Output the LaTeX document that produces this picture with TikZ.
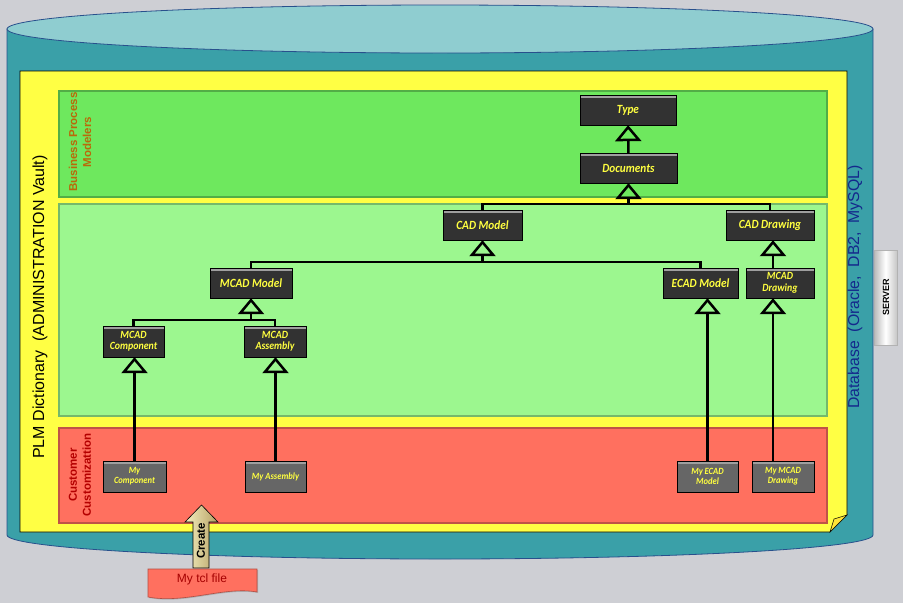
\documentclass[tikz,border=0pt]{standalone}
\usepackage{fontspec}
\setmainfont{Liberation Sans}
\newfontfamily\nodefont[FakeStretch=0.9]{Carlito}
\usetikzlibrary{arrows.meta,shadows,calc}
\definecolor{bggray}{RGB}{206,207,212}
\definecolor{cyl}{RGB}{58,160,168}
\definecolor{cyltop}{RGB}{143,205,208}
\definecolor{cyledge}{RGB}{40,80,140}
\definecolor{yel}{RGB}{255,255,68}
\definecolor{grnA}{RGB}{110,232,94}
\definecolor{grnB}{RGB}{156,247,143}
\definecolor{redband}{RGB}{255,112,95}
\definecolor{nodedark}{RGB}{50,50,50}
\definecolor{nodegray}{RGB}{102,102,102}
\definecolor{nodetext}{RGB}{255,255,64}
\definecolor{bpmtext}{RGB}{185,105,10}
\definecolor{custtext}{RGB}{180,0,0}
\definecolor{navytext}{RGB}{20,40,140}
\tikzset{
  cls/.style={draw=black, line width=0.4pt, fill=nodedark, text=nodetext,
    font=\nodefont\bfseries\itshape\fontsize{12.5}{12}\selectfont, align=center,
    inner sep=1pt, minimum height=30,
    drop shadow={shadow xshift=1.2pt, shadow yshift=-1.2pt, opacity=0.45},
    path picture={\fill[gray!75] (path picture bounding box.north west) rectangle ([yshift=-2.5pt]path picture bounding box.north east);}},
  clstwo/.style={cls, font=\nodefont\bfseries\itshape\fontsize{11}{11.5}\selectfont},
  mycls/.style={cls, fill=nodegray, font=\nodefont\bfseries\itshape\fontsize{9.5}{10}\selectfont, minimum height=31},
  inh/.style={line width=2.5pt, -{Triangle[open,length=16pt,width=26pt]}},
  bar/.style={line width=2.5pt},
  band/.style={line width=1.2pt}
}
\begin{document}
\begin{tikzpicture}[x=1pt,y=-1pt]
\useasboundingbox (0,0) rectangle (903,603);
\fill[bggray] (0,0) rectangle (903,603);
% cylinder
\draw[cyledge, fill=cyl, line width=0.8pt] (7,29) -- (7,535) arc[start angle=180, end angle=0, x radius=433, y radius=24] -- (873,29) -- cycle;
\draw[cyledge, fill=cyltop, line width=0.8pt] (440,29) ellipse [x radius=433, y radius=24];
% server tab
\draw[gray!60, left color=gray!55, right color=gray!45, middle color=white, line width=0.4pt] (874,250) rectangle (897,345);
\node[rotate=90, font=\bfseries\fontsize{9}{9}\selectfont] (server) at (886,297) {SERVER};
% yellow sheet
\draw[black, fill=yel, line width=0.6pt] (20,71) -- (847,71) -- (847,515) -- (830,532) -- (20,532) -- cycle;
\draw[black, fill=yel!80!orange, line width=0.5pt] (847,515) -- (830,532) -- (834,519) -- cycle;
% bands
\draw[band, fill=grnA, draw=grnA!75!black] (59,91) rectangle (827,197);
\draw[band, fill=grnB, draw=grnB!75!black] (59,204) rectangle (827,416);
\draw[band, fill=redband, draw=redband!75!black] (59,428) rectangle (827,523);
% labels
\node[rotate=90, font=\fontsize{16}{16}\selectfont] (plm) at (40,307) {PLM Dictionary\ \ (ADMINISTRATION\ Vault)};
\node[rotate=90, text=navytext, font=\fontsize{15.8}{16}\selectfont] (db) at (855,287) {Database\ \ (Oracle,\ \ DB2,\ \ MySQL)};
\node[rotate=90, text=bpmtext, align=center, font=\bfseries\fontsize{11.5}{14}\selectfont] (bpm) at (80,142) {Business Process\\Modelers};
\node[rotate=90, text=custtext, align=center, font=\bfseries\fontsize{11.5}{14}\selectfont] (cust) at (80,475) {Customer\\Customizattion};
% class nodes
\node[cls, minimum width=96] (type) at (628,110) {Type};
\node[cls, minimum width=97] (docs) at (628.5,168) {Documents};
\node[cls, minimum width=79] (cadmodel) at (482.5,225) {CAD Model};
\node[cls, minimum width=88] (caddraw) at (770,225) {CAD Drawing};
\node[cls, minimum width=82] (mcadmodel) at (251,283) {MCAD Model};
\node[cls, minimum width=75] (ecad) at (700.5,283) {ECAD Model};
\node[clstwo, minimum width=68] (mcaddraw) at (780,283) {MCAD\\Drawing};
\node[clstwo, minimum width=61, minimum height=31] (mcadcomp) at (133.5,341.5) {MCAD\\Component};
\node[clstwo, minimum width=62, minimum height=31] (mcadasm) at (275,341.5) {MCAD\\Assembly};
\node[mycls, minimum width=63] (mycomp) at (134.5,476.5) {My\\Component};
\node[mycls, minimum width=61] (myasm) at (275.5,476.5) {My Assembly};
\node[mycls, minimum width=61] (myecad) at (707.5,476.5) {My ECAD\\Model};
\node[mycls, minimum width=62] (mymcad) at (783,476.5) {My MCAD\\Drawing};
% connectors
\draw[inh] (docs) -- (type);
\coordinate (jd) at ($(docs.south)+(0,21)$);
\draw[bar] (cadmodel.north) |- (jd) -| (caddraw.north);
\draw[inh] (jd) -- (docs.south);
\coordinate (jc) at ($(cadmodel.south)+(0,22)$);
\draw[bar] (mcadmodel.north) |- (jc) -| (ecad.north);
\draw[inh] (jc) -- (cadmodel.south);
\coordinate (mdtop) at ([xshift=-7pt]mcaddraw.north);
\draw[inh] (mdtop) -- (mdtop |- caddraw.south);
\coordinate (jm) at ($(mcadmodel.south)+(0,22)$);
\draw[bar] (mcadcomp.north) |- (jm) -| (mcadasm.north);
\draw[inh] (jm) -- (mcadmodel.south);
\draw[inh] (mycomp.north) -- (mycomp.north |- mcadcomp.south);
\draw[inh] (myasm.north) -- (myasm.north |- mcadasm.south);
\draw[inh] (myecad.north) -- (myecad.north |- ecad.south);
\coordinate (mmtop) at ([xshift=-10pt]mymcad.north);
\draw[inh] (mmtop) -- (mmtop |- mcaddraw.south);
% create arrow
\draw[black, line width=0.6pt, left color={rgb,255:red,245;green,238;blue,190}, right color={rgb,255:red,180;green,160;blue,100}]
  (193,568) -- (193,522) -- (185,522) -- (201.5,505) -- (218,522) -- (209,522) -- (209,568) -- cycle;
\node[rotate=90, font=\bfseries\fontsize{11.5}{11}\selectfont] (create) at (201,541) {Create};
% tcl file
\draw[redband!70!black, fill=redband, line width=0.6pt, drop shadow={shadow xshift=1pt, shadow yshift=-1pt, opacity=0.4}]
  (148,569) -- (257,569) -- (257,592) .. controls (225,586) and (185,604) .. (148,597) -- cycle;
\node[text={rgb,255:red,165;green,0;blue,0}, font=\fontsize{12}{12}\selectfont] (tcl) at (202,579) {My tcl file};
\end{tikzpicture}
\end{document}
